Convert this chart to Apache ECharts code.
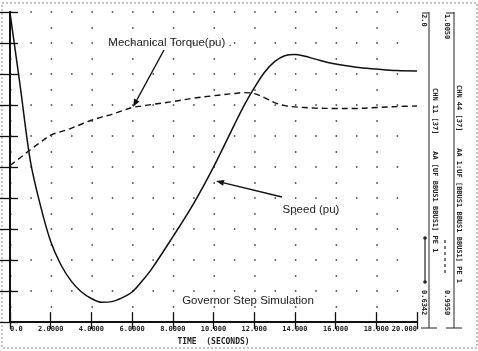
<!DOCTYPE html>
<html>
<head>
<meta charset="utf-8">
<script src="https://cdn.jsdelivr.net/npm/echarts@6/dist/echarts.min.js"></script>
<style>
  html, body { margin: 0; padding: 0; background: #fff; }
  #chart { width: 478px; height: 351px; }
</style>
</head>
<body>
<div id="chart"></div>
<script>
// time in seconds, curves in grid divisions (0 = bottom, 10 = top)
var timeS = [0, 0.5, 1, 1.5, 2, 2.5, 3, 3.5, 4, 4.5, 5, 5.5, 6, 6.5, 7, 8, 9, 10, 11, 11.5, 12, 12.5, 13, 13.5, 14, 14.5, 15, 16, 17, 18, 19, 20];
var speedV = [9.97, 7.62, 5.20, 3.75, 2.60, 1.85, 1.33, 0.98, 0.76, 0.64, 0.66, 0.78, 0.97, 1.33, 1.75, 2.75, 3.80, 5.00, 6.33, 6.98, 7.55, 8.05, 8.40, 8.59, 8.63, 8.57, 8.48, 8.32, 8.22, 8.16, 8.11, 8.10];
var torqueV = [5.05, 5.30, 5.56, 5.80, 6.03, 6.14, 6.25, 6.38, 6.51, 6.61, 6.70, 6.81, 6.92, 6.97, 7.02, 7.11, 7.22, 7.30, 7.37, 7.40, 7.37, 7.24, 7.08, 6.98, 6.94, 6.92, 6.90, 6.89, 6.89, 6.92, 6.95, 6.97];
var xTickLabels = ['0.0', '2.0000', '4.0000', '6.0000', '8.0000', '10.000', '12.000', '14.000', '16.000', '18.000', '20.000'];

function pairs(xs, ys) {
    var out = [];
    for (var i = 0; i < xs.length; i++) out.push([xs[i], ys[i]]);
    return out;
}

// annotation arrow: shaft plus a filled head at (x2, y2)
function arrow(x1, y1, x2, y2) {
    var a = Math.atan2(y2 - y1, x2 - x1);
    var L = 8, W = 3;
    var bx = x2 - L * Math.cos(a), by = y2 - L * Math.sin(a);
    var px = -Math.sin(a) * W, py = Math.cos(a) * W;
    return [
        { type: 'line', shape: { x1: x1, y1: y1, x2: bx, y2: by }, style: { stroke: '#111', lineWidth: 1.4 } },
        { type: 'polygon', shape: { points: [[x2, y2], [bx + px, by + py], [bx - px, by - py]] }, style: { fill: '#111' } }
    ];
}

function vtext(x, y, txt, size) {
    return {
        type: 'text', x: x, y: y, rotation: -Math.PI / 2,
        style: { text: txt, fill: '#222', font: 'bold ' + (size || 7) + 'px "DejaVu Sans Mono"', align: 'left', verticalAlign: 'middle' }
    };
}

var dom = document.getElementById('chart');
var myChart = echarts.init(dom);

var monoLabel = { fontFamily: 'DejaVu Sans Mono', fontWeight: 'bold', fontSize: 7, color: '#222' };
var noteFont = '11.5px "Liberation Sans"';

var graphics = [
    // outer dotted frame of the scan
    { type: 'rect', shape: { x: 2, y: 3, width: 475, height: 345 }, style: { fill: 'none', stroke: '#888', lineWidth: 1, lineDash: [2, 2] } },
    // annotations inside the plot
    { type: 'text', x: 170, y: 43, style: { text: 'Mechanical Torque(pu) .', fill: '#222', font: noteFont, align: 'center', verticalAlign: 'middle' } },
    { type: 'text', x: 311, y: 210, style: { text: 'Speed (pu)', fill: '#222', font: noteFont, align: 'center', verticalAlign: 'middle' } },
    { type: 'text', x: 248, y: 301, style: { text: 'Governor Step Simulation', fill: '#222', font: noteFont, align: 'center', verticalAlign: 'middle' } },
    // right-hand channel columns
    { type: 'line', shape: { x1: 429, y1: 12, x2: 429, y2: 328 }, style: { stroke: '#222', lineWidth: 1 } },
    { type: 'line', shape: { x1: 422, y1: 13, x2: 429, y2: 13 }, style: { stroke: '#222', lineWidth: 1 } },
    { type: 'line', shape: { x1: 421, y1: 328, x2: 437, y2: 328 }, style: { stroke: '#222', lineWidth: 1 } },
    { type: 'line', shape: { x1: 454, y1: 12, x2: 454, y2: 328 }, style: { stroke: '#222', lineWidth: 1 } },
    { type: 'line', shape: { x1: 446, y1: 13, x2: 454, y2: 13 }, style: { stroke: '#222', lineWidth: 1 } },
    { type: 'line', shape: { x1: 446, y1: 328, x2: 462, y2: 328 }, style: { stroke: '#222', lineWidth: 1 } },
    // legend samples
    { type: 'line', shape: { x1: 425, y1: 237, x2: 425, y2: 283 }, style: { stroke: '#222', lineWidth: 1.2 } },
    { type: 'circle', shape: { cx: 425, cy: 238, r: 1.8 }, style: { fill: '#222' } },
    { type: 'circle', shape: { cx: 425, cy: 282, r: 1.8 }, style: { fill: '#222' } },
    { type: 'line', shape: { x1: 445, y1: 240, x2: 445, y2: 276 }, style: { stroke: '#222', lineWidth: 1.2, lineDash: [3, 3] } },
    vtext(424, 14, '2.0'),
    vtext(424, 290, '0.6342'),
    vtext(447, 14, '1.0050'),
    vtext(447, 290, '0.9950'),
    vtext(435, 88, 'CHN 11 [37]    AA [UF BBUS1 BBUS1] PE 1'),
    vtext(459, 85, 'CHN 44 [37]    AA 1:UF [BBUS1 BBUS1 BBUS1] PE 1')
].concat(arrow(164, 50, 133, 107), arrow(282, 197, 216, 181));

myChart.setOption({
    animation: false,
    backgroundColor: '#fff',
    grid: { left: 10, right: 61, top: 12, bottom: 25, containLabel: false },
    xAxis: [
        {
            type: 'value', min: 0, max: 20, interval: 2,
            name: 'TIME  (SECONDS)', nameLocation: 'middle', nameGap: 14,
            nameTextStyle: { fontFamily: 'DejaVu Sans Mono', fontWeight: 'bold', fontSize: 8, color: '#222' },
            axisLine: { lineStyle: { color: '#111', width: 1.5 } },
            axisTick: { inside: true, length: 10, lineStyle: { color: '#111', width: 1.3 } },
            axisLabel: Object.assign({
                margin: 4,
                alignMinLabel: 'left', alignMaxLabel: 'right',
                formatter: function (v) { return xTickLabels[Math.round(v / 2)]; }
            }, monoLabel),
            splitLine: { show: false }
        },
        {
            type: 'value', min: 0, max: 20, interval: 2, position: 'top',
            axisLine: { lineStyle: { color: '#111', width: 2 } },
            axisTick: { inside: true, length: 7, lineStyle: { color: '#111', width: 1.3 } },
            axisLabel: { show: false },
            splitLine: { show: false }
        }
    ],
    yAxis: [
        {
            type: 'value', min: 0, max: 10, interval: 1,
            axisLine: { show: true, lineStyle: { color: '#111', width: 2 } },
            axisTick: { show: true, inside: true, length: 8, lineStyle: { color: '#111', width: 1.3 } },
            axisLabel: { show: false },
            splitLine: { show: true, lineStyle: { color: '#333', width: 1.5, type: [1.5, 18.85] } },
            minorTick: { show: false, splitNumber: 2 },
            minorSplitLine: { show: true, lineStyle: { color: '#333', width: 1.5, type: [1.5, 39.2] } }
        },
        {
            type: 'value', min: 0, max: 10, interval: 1, position: 'right',
            axisLine: { show: true, lineStyle: { color: '#111', width: 1.5 } },
            axisTick: { show: true, inside: true, length: 12, lineStyle: { color: '#111', width: 1.3 } },
            axisLabel: { show: false },
            splitLine: { show: false }
        }
    ],
    series: [
        {
            name: 'Speed (pu)', type: 'line', smooth: 0.35, showSymbol: false,
            data: pairs(timeS, speedV),
            lineStyle: { color: '#111', width: 1.5 }
        },
        {
            name: 'Mechanical Torque(pu)', type: 'line', smooth: 0.35, showSymbol: false,
            data: pairs(timeS, torqueV),
            lineStyle: { color: '#111', width: 1.4, type: [6, 4] }
        }
    ],
    graphic: graphics
});
window.addEventListener('resize', function () {
    myChart.resize();
});
</script>
</body>
</html>
